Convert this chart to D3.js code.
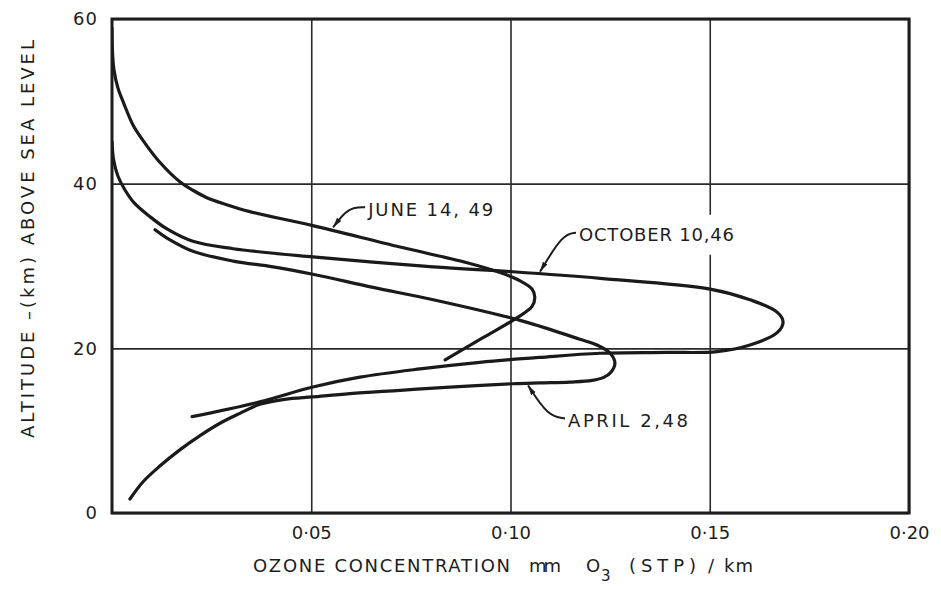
<!DOCTYPE html>
<html>
<head>
<meta charset="utf-8">
<script src="https://cdn.jsdelivr.net/npm/d3@7"></script>
<style>
  body { margin: 0; background: #fff; }
  svg text { font-family: "DejaVu Sans", sans-serif; fill: #1d1d1d; }
</style>
</head>
<body>
<div id="chart"></div>
<script>
// axis ticks
var xTickValues = [0.05, 0.10, 0.15, 0.20];
var xTickLabels = ['0·05', '0·10', '0·15', '0·20'];
var yTickValues = [0, 20, 40, 60];
var yTickLabels = ['0', '20', '40', '60'];

// ozone (mm O3 STP / km) and altitude (km), in the order the pen drew them
var june49Ozone = [0.000, 0.0001, 0.0005, 0.0015, 0.0030, 0.0053, 0.0083, 0.0120, 0.0171, 0.0203, 0.0238, 0.0284, 0.0346, 0.0504, 0.0723, 0.0891, 0.0974, 0.1024, 0.1054, 0.1061, 0.1054, 0.1016, 0.0931, 0.0836];
var june49Alt   = [58.9, 56.2, 53.8, 51.6, 49.7, 47.1, 44.9, 42.6, 40.2, 39.2, 38.3, 37.5, 36.6, 34.9, 32.3, 30.4, 29.2, 28.2, 27.2, 26.2, 25.1, 23.7, 21.3, 18.6];

var october46Ozone = [0.000, 0.0004, 0.0015, 0.0033, 0.0055, 0.0095, 0.0138, 0.0203, 0.0304, 0.0504, 0.0806, 0.1006, 0.1225, 0.1501, 0.1601, 0.1669, 0.1684, 0.1669, 0.1601, 0.1518, 0.1393, 0.1225, 0.1074, 0.0923, 0.0773, 0.0622, 0.0504, 0.0371, 0.0201];
var october46Alt   = [45.1, 42.9, 40.9, 39.2, 37.7, 36.0, 34.5, 33.0, 32.1, 31.1, 29.9, 29.3, 28.5, 27.2, 25.9, 24.4, 23.2, 21.9, 20.4, 19.6, 19.5, 19.4, 18.9, 18.3, 17.5, 16.5, 15.3, 13.5, 11.7];

var april48Ozone = [0.0108, 0.0138, 0.0203, 0.0304, 0.0404, 0.0504, 0.0655, 0.0806, 0.1024, 0.1099, 0.1174, 0.1217, 0.125, 0.1262, 0.1252, 0.1235, 0.1205, 0.1149, 0.1074, 0.1006, 0.0848, 0.0723, 0.0597, 0.0504, 0.0434, 0.0371, 0.0321, 0.0271, 0.0221, 0.0171, 0.0120, 0.0078, 0.0045];
var april48Alt   = [34.4, 33.4, 31.8, 30.6, 29.9, 29.0, 27.4, 25.9, 23.4, 22.3, 21.1, 20.4, 19.4, 18.2, 17.1, 16.5, 16.1, 15.9, 15.8, 15.7, 15.3, 14.9, 14.5, 14.1, 13.8, 13.2, 12.1, 10.9, 9.4, 7.7, 5.7, 3.8, 1.7];

var seriesNames = ['JUNE 14, 49', 'OCTOBER 10,46', 'APRIL 2,48'];
// where each label's arrow touches its curve
var arrowTipOzone = [0.0555, 0.1074, 0.1044];
var arrowTipAlt   = [34.7, 29.3, 15.5];

(function(){

  var width = 941, height = 590;
  var left = 112, right = 909, top = 19, bottom = 513;
  var ink = '#1d1d1d';

  var x = d3.scaleLinear().domain([0, 0.20]).range([left, right]);
  var y = d3.scaleLinear().domain([0, 60]).range([bottom, top]);

  var svg = d3.select('#chart')
    .append('svg')
    .attr('width', width)
    .attr('height', height);

  var defs = svg.append('defs');
  defs.append('clipPath')
    .attr('id', 'plot')
    .append('rect')
    .attr('x', left)
    .attr('y', top)
    .attr('width', right - left)
    .attr('height', bottom - top);

  defs.append('marker')
    .attr('id', 'arrow')
    .attr('viewBox', '0 0 10 10')
    .attr('refX', 10)
    .attr('refY', 5)
    .attr('markerUnits', 'userSpaceOnUse')
    .attr('markerWidth', 10)
    .attr('markerHeight', 10)
    .attr('orient', 'auto-start-reverse')
    .append('path')
    .attr('d', 'M0,2.3L10,5L0,7.7z')
    .attr('fill', ink);

  // grid via the axes
  var xAxis = d3.axisBottom(x)
    .tickValues(xTickValues)
    .tickFormat(function(d, i) {return xTickLabels[i];})
    .tickSize(-(bottom - top))
    .tickPadding(13);

  var yAxis = d3.axisLeft(y)
    .tickValues(yTickValues)
    .tickFormat(function(d, i) {return yTickLabels[i];})
    .tickSize(-(right - left))
    .tickPadding(14);

  var gx = svg.append('g')
    .attr('transform', 'translate(0,' + bottom + ')')
    .call(xAxis);
  var gy = svg.append('g')
    .attr('transform', 'translate(' + left + ',0)')
    .call(yAxis);

  [gx, gy].forEach(function(g) {
    g.select('.domain').remove();
    g.selectAll('.tick line')
      .attr('stroke', '#2a2a2a')
      .attr('stroke-width', 1.6);
    g.selectAll('.tick text')
      .attr('font-family', '"DejaVu Sans", sans-serif')
      .attr('font-size', 18)
      .attr('fill', ink);
  });
  gy.selectAll('.tick text').attr('letter-spacing', 1);

  // label backgrounds break the grid like the original drawing
  var tips = seriesNames.map(function(name, i) {
    return {name: name, px: x(arrowTipOzone[i]), py: y(arrowTipAlt[i])};
  });
  var hooks = [
    {bend: [15, -20], end: [32, -20], len: 125},
    {bend: [23, -38], end: [36, -39], len: 155},
    {bend: [20, 31], end: [37, 33], len: 120}
  ];

  svg.selectAll('rect.gap')
    .data(tips)
    .enter()
    .append('rect')
    .attr('class', 'gap')
    .attr('x', function(d, i) {return d.px + hooks[i].end[0] + 2;})
    .attr('y', function(d, i) {return d.py + hooks[i].end[1] + 2 - 20;})
    .attr('width', function(d, i) {return hooks[i].len + 6;})
    .attr('height', 40)
    .attr('fill', '#fff');

  // frame
  svg.append('rect')
    .attr('x', left)
    .attr('y', top)
    .attr('width', right - left)
    .attr('height', bottom - top)
    .attr('fill', 'none')
    .attr('stroke', ink)
    .attr('stroke-width', 3);

  // profiles
  var series = [
    d3.zip(june49Ozone, june49Alt),
    d3.zip(october46Ozone, october46Alt),
    d3.zip(april48Ozone, april48Alt)
  ];

  var line = d3.line()
    .x(function(d) {return x(d[0]);})
    .y(function(d) {return y(d[1]);})
    .curve(d3.curveCatmullRom.alpha(0.5));

  svg.append('g')
    .attr('clip-path', 'url(#plot)')
    .selectAll('path')
    .data(series)
    .enter()
    .append('path')
    .attr('d', line)
    .attr('fill', 'none')
    .attr('stroke', '#1a1a1a')
    .attr('stroke-width', 3.2)
    .attr('stroke-linecap', 'round')
    .attr('stroke-linejoin', 'round');

  // labels with arrows
  svg.selectAll('path.leader')
    .data(tips)
    .enter()
    .append('path')
    .attr('class', 'leader')
    .attr('d', function(d, i) {
      var h = hooks[i];
      return d3.line().curve(d3.curveBasis)([
        [d.px, d.py],
        [d.px + h.bend[0], d.py + h.bend[1]],
        [d.px + h.end[0], d.py + h.end[1]]
      ]);
    })
    .attr('fill', 'none')
    .attr('stroke', ink)
    .attr('stroke-width', 2)
    .attr('marker-start', 'url(#arrow)');

  svg.selectAll('text.label')
    .data(tips)
    .enter()
    .append('text')
    .attr('class', 'label')
    .attr('x', function(d, i) {return d.px + hooks[i].end[0] + 3;})
    .attr('y', function(d, i) {return d.py + hooks[i].end[1] + 2;})
    .attr('dy', '0.36em')
    .attr('font-size', 18)
    .attr('textLength', function(d, i) {return hooks[i].len;})
    .attr('lengthAdjust', 'spacing')
    .text(function(d) {return d.name;});

  // x title, set piece by piece like the hand lettering
  var xTitle = [
    {t: 'OZONE CONCENTRATION', x: 253, w: 257, dy: 0, size: 18},
    {t: 'mm', x: 529, w: 32, dy: 0, size: 18},
    {t: 'O', x: 586, w: 14, dy: 0, size: 18},
    {t: '3', x: 601, w: 9, dy: 9, size: 15},
    {t: '(STP)', x: 629, w: 67, dy: 0, size: 18},
    {t: '/', x: 708, w: 8, dy: 0, size: 18},
    {t: 'km', x: 724, w: 29, dy: 0, size: 18}
  ];
  svg.selectAll('text.xtitle')
    .data(xTitle)
    .enter()
    .append('text')
    .attr('class', 'xtitle')
    .attr('x', function(d) {return d.x;})
    .attr('y', function(d) {return 572 + d.dy;})
    .attr('font-size', function(d) {return d.size;})
    .attr('textLength', function(d) {return d.w;})
    .attr('lengthAdjust', 'spacing')
    .text(function(d) {return d.t;});

  svg.append('text')
    .attr('transform', 'translate(34,438) rotate(-90)')
    .attr('font-size', 18)
    .attr('textLength', 398)
    .attr('lengthAdjust', 'spacing')
    .text('ALTITUDE –(km) ABOVE SEA LEVEL');

})();
</script>
</body>
</html>
